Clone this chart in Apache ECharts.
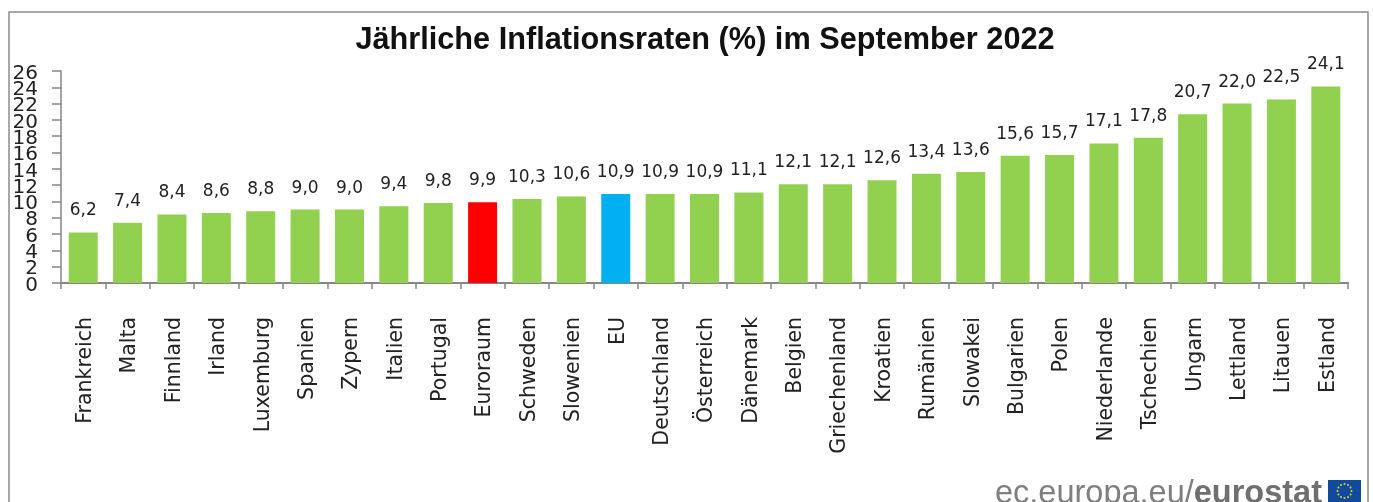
<!DOCTYPE html>
<html>
<head>
<meta charset="utf-8">
<style>
    html, body {margin: 0; padding: 0; background: #fff; overflow: hidden;}
    #chart {width: 1373px; height: 502px;}
</style>
<script src="https://cdn.jsdelivr.net/npm/echarts@6/dist/echarts.min.js"></script>
</head>
<body>
<div id="chart"></div>
<script>
var chartTitle = 'Jährliche Inflationsraten (%) im September 2022';
var categories = ['Frankreich', 'Malta', 'Finnland', 'Irland', 'Luxemburg', 'Spanien', 'Zypern', 'Italien',
    'Portugal', 'Euroraum', 'Schweden', 'Slowenien', 'EU', 'Deutschland', 'Österreich', 'Dänemark', 'Belgien',
    'Griechenland', 'Kroatien', 'Rumänien', 'Slowakei', 'Bulgarien', 'Polen', 'Niederlande', 'Tschechien',
    'Ungarn', 'Lettland', 'Litauen', 'Estland'];
var values = [6.2, 7.4, 8.4, 8.6, 8.8, 9.0, 9.0, 9.4, 9.8, 9.9, 10.3, 10.6, 10.9, 10.9, 10.9, 11.1, 12.1,
    12.1, 12.6, 13.4, 13.6, 15.6, 15.7, 17.1, 17.8, 20.7, 22.0, 22.5, 24.1];
var tickLabels = ['0', '2', '4', '6', '8', '10', '12', '14', '16', '18', '20', '22', '24', '26'];

var barColor = function (name) {
    if (name === 'Euroraum') {
        return '#ff0000';
    }
    if (name === 'EU') {
        return '#00b0f0';
    }
    return '#92d050';
};

// Rahmen, Quelle und EU-Flagge
var decoration = [
    {
        type: 'rect',
        shape: {x: 9, y: 12, width: 1359, height: 600},
        style: {fill: 'none', stroke: '#8c8c8c', lineWidth: 1.5}
    },
    {
        type: 'text',
        style: {
            x: 1322, y: 511, align: 'right', verticalAlign: 'bottom',
            text: '{a|ec.europa.eu/}{b|eurostat}',
            rich: {
                a: {font: '32.5px "Liberation Sans"', fill: '#7f7f7f'},
                b: {font: 'bold 32.5px "Liberation Sans"', fill: '#6f6f6f'}
            }
        }
    },
    {
        type: 'rect',
        shape: {x: 1328, y: 480, width: 33, height: 22},
        style: {fill: '#0f4a9c'}
    }
];
for (var i = 0; i < 12; i++) {
    decoration.push({
        type: 'circle',
        shape: {
            cx: 1344.5 + 7 * Math.cos(i * Math.PI / 6),
            cy: 491 + 7 * Math.sin(i * Math.PI / 6),
            r: 1
        },
        style: {fill: '#e8d21d'}
    });
}

var myChart = echarts.init(document.getElementById('chart'));
myChart.setOption({
    animation: false,
    backgroundColor: '#fff',
    title: {
        text: chartTitle,
        left: 700,
        top: 20,
        textAlign: 'center',
        textStyle: {
            fontFamily: 'Liberation Sans',
            fontWeight: 'bold',
            fontSize: 30.7,
            color: '#111'
        }
    },
    grid: {left: 61, right: 25, top: 71, bottom: 219, containLabel: false},
    xAxis: {
        type: 'category',
        data: categories,
        axisLine: {lineStyle: {color: '#868686', width: 2}},
        axisTick: {show: true, length: 6, lineStyle: {color: '#868686', width: 1.5}},
        axisLabel: {
            interval: 0,
            rotate: 90,
            margin: 34,
            verticalAlign: 'top',
            lineHeight: 5,
            fontFamily: 'DejaVu Sans',
            fontSize: 20.5,
            color: '#222'
        }
    },
    yAxis: [
        {
            type: 'value',
            min: 0,
            max: 26,
            interval: 2,
            axisLine: {show: true, lineStyle: {color: '#868686', width: 1.5}},
            axisTick: {show: true, length: 9, lineStyle: {color: '#868686', width: 1.5}},
            splitLine: {show: false},
            axisLabel: {show: false}
        },
        { // nur fuer die Beschriftung, sonst blendet die Werteachse ueberlappende Labels aus
            type: 'category',
            position: 'left',
            data: tickLabels,
            boundaryGap: false,
            axisLine: {show: false},
            axisTick: {show: false},
            splitLine: {show: false},
            axisLabel: {
                interval: 0,
                margin: 23,
                verticalAlign: 'top',
                lineHeight: 5,
                fontFamily: 'DejaVu Sans',
                fontSize: 20,
                color: '#222'
            }
        }
    ],
    series: [
        {
            type: 'bar',
            barWidth: 29,
            yAxisIndex: 0,
            data: values.map(function (v, idx) {
                return {value: v, itemStyle: {color: barColor(categories[idx])}};
            }),
            label: {
                show: true,
                position: 'top',
                distance: 13,
                fontFamily: 'DejaVu Sans',
                fontSize: 17,
                color: '#222',
                formatter: function (p) {
                    return p.value.toFixed(1).replace('.', ',');
                }
            }
        }
    ],
    graphic: decoration
});
</script>
</body>
</html>
